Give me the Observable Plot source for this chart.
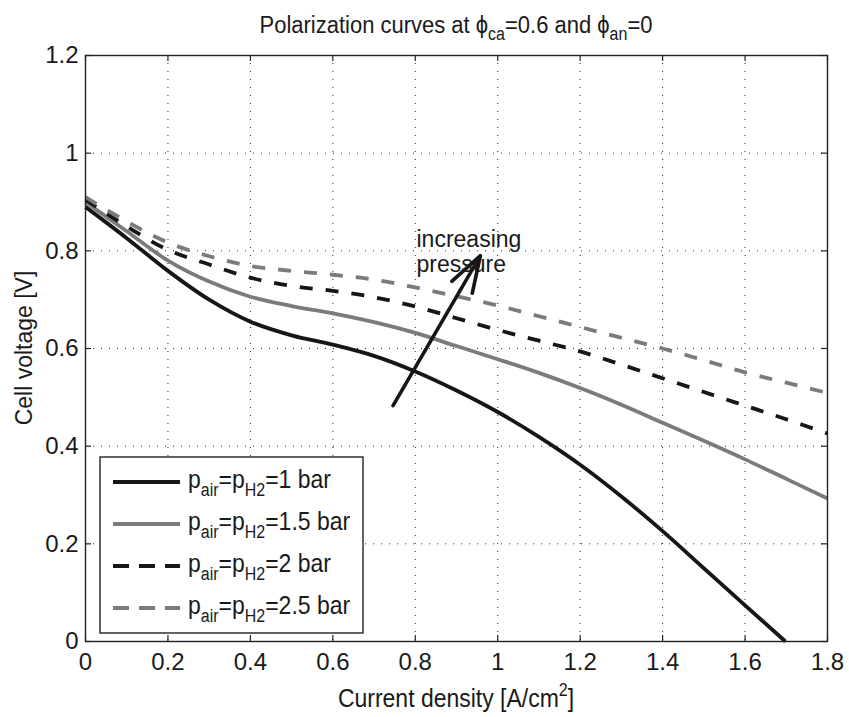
<!DOCTYPE html>
<html>
<head>
<meta charset="utf-8">
<script src="https://cdn.jsdelivr.net/npm/d3@7"></script>
<script src="https://cdn.jsdelivr.net/npm/@observablehq/plot@0.6"></script>
<style>
  html, body { margin: 0; padding: 0; background: #fff; }
  #chart { width: 849px; height: 717px; }
</style>
</head>
<body>
<div id="chart"></div>
<script>
// ---- data ----
const pressures = ["1", "1.5", "2", "2.5"];
const current = [0, 0.1, 0.2, 0.3, 0.4, 0.5, 0.6, 0.7, 0.8, 0.9, 1.0, 1.1, 1.2, 1.3, 1.4, 1.5, 1.6, 1.7, 1.8];
const current1bar = [0, 0.1, 0.2, 0.3, 0.4, 0.5, 0.6, 0.7, 0.8, 0.9, 1.0, 1.1, 1.2, 1.3, 1.4, 1.5, 1.6, 1.698];
const voltage1 = [0.890, 0.826, 0.759, 0.700, 0.655, 0.627, 0.608, 0.585, 0.553, 0.514, 0.470, 0.419, 0.362, 0.297, 0.226, 0.150, 0.074, 0.0];
const voltage15 = [0.900, 0.840, 0.780, 0.737, 0.706, 0.687, 0.672, 0.654, 0.632, 0.605, 0.578, 0.550, 0.519, 0.485, 0.448, 0.411, 0.373, 0.333, 0.293];
const voltage2 = [0.905, 0.850, 0.802, 0.772, 0.745, 0.728, 0.718, 0.705, 0.686, 0.662, 0.638, 0.616, 0.594, 0.567, 0.539, 0.511, 0.483, 0.455, 0.426];
const voltage25 = [0.910, 0.860, 0.817, 0.789, 0.769, 0.759, 0.751, 0.741, 0.725, 0.707, 0.688, 0.666, 0.644, 0.622, 0.600, 0.576, 0.551, 0.530, 0.509];
const xTicks = [0, 0.2, 0.4, 0.6, 0.8, 1, 1.2, 1.4, 1.6, 1.8];
const yTicks = [0, 0.2, 0.4, 0.6, 0.8, 1, 1.2];
const arrowFrom = [0.746, 0.483];
const arrowTo = [0.958, 0.790];
const noteLines = ["increasing", "pressure"];
const noteX = 0.803;
const noteY = [0.822, 0.771];

// ---- styles ----
const seriesX = [current1bar, current, current, current];
const seriesY = [voltage1, voltage15, voltage2, voltage25];
const seriesColor = ["#161616", "#7b7b7b", "#161616", "#7b7b7b"];
const seriesDash = [null, null, "13,13", "13,13"];
const FONT = "'Liberation Sans', Arial, Helvetica, sans-serif";
const LW = 3.8;

const rows = pressures.map((p, i) => seriesX[i].map((x, j) => ({series: p, x, y: seriesY[i][j]})));

const W = 849, H = 717, mL = 85, mR = 22, mT = 55, mB = 76;
const pw = W - mL - mR, ph = H - mT - mB;
const tickLen = 6;

const marks = [
  Plot.ruleX(xTicks, {x: d => d, stroke: "#000", strokeOpacity: 0.85, strokeDasharray: "1,7"}),
  Plot.ruleY(yTicks, {y: d => d, stroke: "#000", strokeOpacity: 0.85, strokeDasharray: "1,7"})
];
rows.forEach((r, i) => {
  marks.push(Plot.line(r, {x: "x", y: "y", stroke: seriesColor[i], strokeWidth: LW,
    strokeDasharray: seriesDash[i] || undefined, curve: "catmull-rom", strokeLinecap: "butt"}));
});
marks.push(
  Plot.arrow([{x1: arrowFrom[0], y1: arrowFrom[1], x2: arrowTo[0], y2: arrowTo[1]}],
    {x1: "x1", y1: "y1", x2: "x2", y2: "y2", stroke: "#161616", strokeWidth: 3.6, headLength: 16, headAngle: 36}),
  Plot.text(noteLines, {x: () => noteX, y: (d, i) => noteY[i], text: d => d, textAnchor: "start",
    fontSize: 23, fill: "#1a1a1a"}),
  Plot.tickX(xTicks, {x: d => d, insetTop: ph - tickLen, stroke: "#222", strokeWidth: 1.2}),
  Plot.tickX(xTicks, {x: d => d, insetBottom: ph - tickLen, stroke: "#222", strokeWidth: 1.2}),
  Plot.tickY(yTicks, {y: d => d, insetRight: pw - tickLen, stroke: "#222", strokeWidth: 1.2}),
  Plot.tickY(yTicks, {y: d => d, insetLeft: pw - tickLen, stroke: "#222", strokeWidth: 1.2}),
  Plot.frame({stroke: "#222", strokeWidth: 1.4})
);

const chart = Plot.plot({
  width: W, height: H,
  marginLeft: mL, marginRight: mR, marginTop: mT, marginBottom: mB,
  style: {fontFamily: FONT, fontSize: "24px", background: "#fff", color: "#1a1a1a", overflow: "visible"},
  x: {domain: [0, 1.8], ticks: xTicks, tickSize: 0, tickPadding: 11, tickFormat: d3.format("~g"), label: null},
  y: {domain: [0, 1.2], ticks: yTicks, tickSize: 0, tickPadding: 7, tickFormat: d3.format("~g"), label: null},
  marks
});
document.getElementById("chart").appendChild(chart);

// ---- title, axis labels, legend ----
const svg = d3.select(chart);
const subSize = 16;
const SY = 1.1; // slight vertical stretch of the reference's lettering

function label(x, y, anchor, size) {
  return svg.append("text").attr("transform", `translate(${x},${y}) scale(1,${SY})`)
    .attr("text-anchor", anchor).attr("font-family", FONT).attr("font-size", size).attr("fill", "#1a1a1a");
}

const title = label(mL + pw / 2, 33, "middle", 22);
title.append("tspan").text("Polarization curves at \u03D5");
title.append("tspan").attr("dy", 6).attr("font-size", subSize).text("ca");
title.append("tspan").attr("dy", -6).text("=0.6 and \u03D5");
title.append("tspan").attr("dy", 6).attr("font-size", subSize).text("an");
title.append("tspan").attr("dy", -6).text("=0");

const xl = label(mL + pw / 2, 707, "middle", 23);
xl.append("tspan").text("Current density [A/cm");
xl.append("tspan").attr("dy", -10).attr("font-size", subSize).text("2");
xl.append("tspan").attr("dy", 10).text("]");

svg.append("text").attr("transform", `translate(32,${mT + ph / 2}) rotate(-90)`)
  .attr("text-anchor", "middle").attr("font-family", FONT).attr("font-size", 23).attr("fill", "#1a1a1a")
  .text("Cell voltage [V]");

const lg = svg.append("g");
lg.append("rect").attr("x", 100).attr("y", 457).attr("width", 263).attr("height", 176)
  .attr("fill", "#fff").attr("stroke", "#222").attr("stroke-width", 1.4);
pressures.forEach((p, i) => {
  const cy = 482 + i * 42;
  lg.append("line").attr("x1", 113).attr("x2", 180).attr("y1", cy).attr("y2", cy)
    .attr("stroke", seriesColor[i]).attr("stroke-width", LW)
    .attr("stroke-dasharray", seriesDash[i] ? "16,10" : null);
  const t = label(188, cy + 6, "start", 23);
  t.append("tspan").text("p");
  t.append("tspan").attr("dy", 7).attr("font-size", subSize).text("air");
  t.append("tspan").attr("dy", -7).text("=p");
  t.append("tspan").attr("dy", 7).attr("font-size", subSize).text("H2");
  t.append("tspan").attr("dy", -7).text(`=${p} bar`);
});
</script>
</body>
</html>
